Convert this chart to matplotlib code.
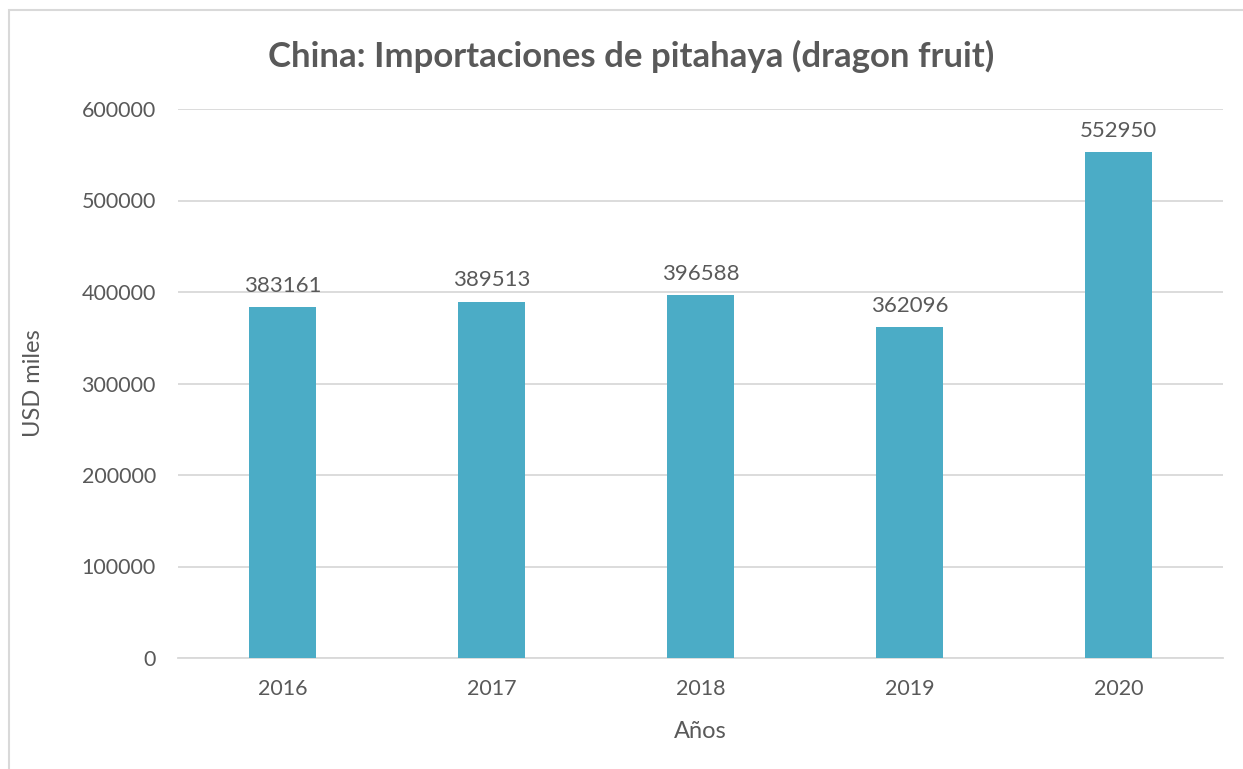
import matplotlib.pyplot as plt
from matplotlib.patches import Rectangle

years = ["2016", "2017", "2018", "2019", "2020"]
imports = [383161, 389513, 396588, 362096, 552950]

TEXT = "#595959"
GRID = "#D9D9D9"
BAR = "#4BACC6"

plt.rcParams['font.family'] = ['Lato', 'DejaVu Sans']

fig = plt.figure(figsize=(12.43, 7.69), dpi=100)
ax = fig.add_axes([178 / 1243, 1 - 658 / 769, (1223 - 178) / 1243, (658 - 109) / 769])

x = range(len(years))
ax.bar(x, imports, width=0.316, color=BAR, zorder=3)
for xi, v in zip(x, imports):
    ax.annotate(str(v), (xi, v), xytext=(0, 8), textcoords="offset points",
                ha="center", va="bottom", fontsize=16, color=TEXT)

ax.set_xlim(-0.5, len(years) - 0.5)
ax.set_ylim(0, 600000)
ax.set_yticks(range(0, 600001, 100000))
ax.set_xticks(list(x))
ax.set_xticklabels(years)
ax.grid(axis="y", color=GRID, linewidth=1.3, zorder=0)
for s in ["top", "right", "left"]:
    ax.spines[s].set_visible(False)
ax.spines["bottom"].set_color(GRID)
ax.spines["bottom"].set_linewidth(1.3)
ax.tick_params(length=0, labelsize=15.5, labelcolor=TEXT)
ax.tick_params(axis="y", pad=16)
ax.tick_params(axis="x", pad=15)
ax.set_xlabel("Años", fontsize=17, color=TEXT, labelpad=16)
ax.set_ylabel("USD miles", fontsize=17, color=TEXT, labelpad=27)

fig.text(631 / 1243, 1 - 56 / 769, "China: Importaciones de pitahaya (dragon fruit)",
         ha="center", va="center", fontsize=25, fontweight="bold", color=TEXT)

fig.patches.append(Rectangle((9 / 1243, -0.1), 1.2, 1.1 - 10 / 769,
                             transform=fig.transFigure, fill=False,
                             edgecolor=GRID, linewidth=1.5))

fig.savefig("out.png", dpi=100)
